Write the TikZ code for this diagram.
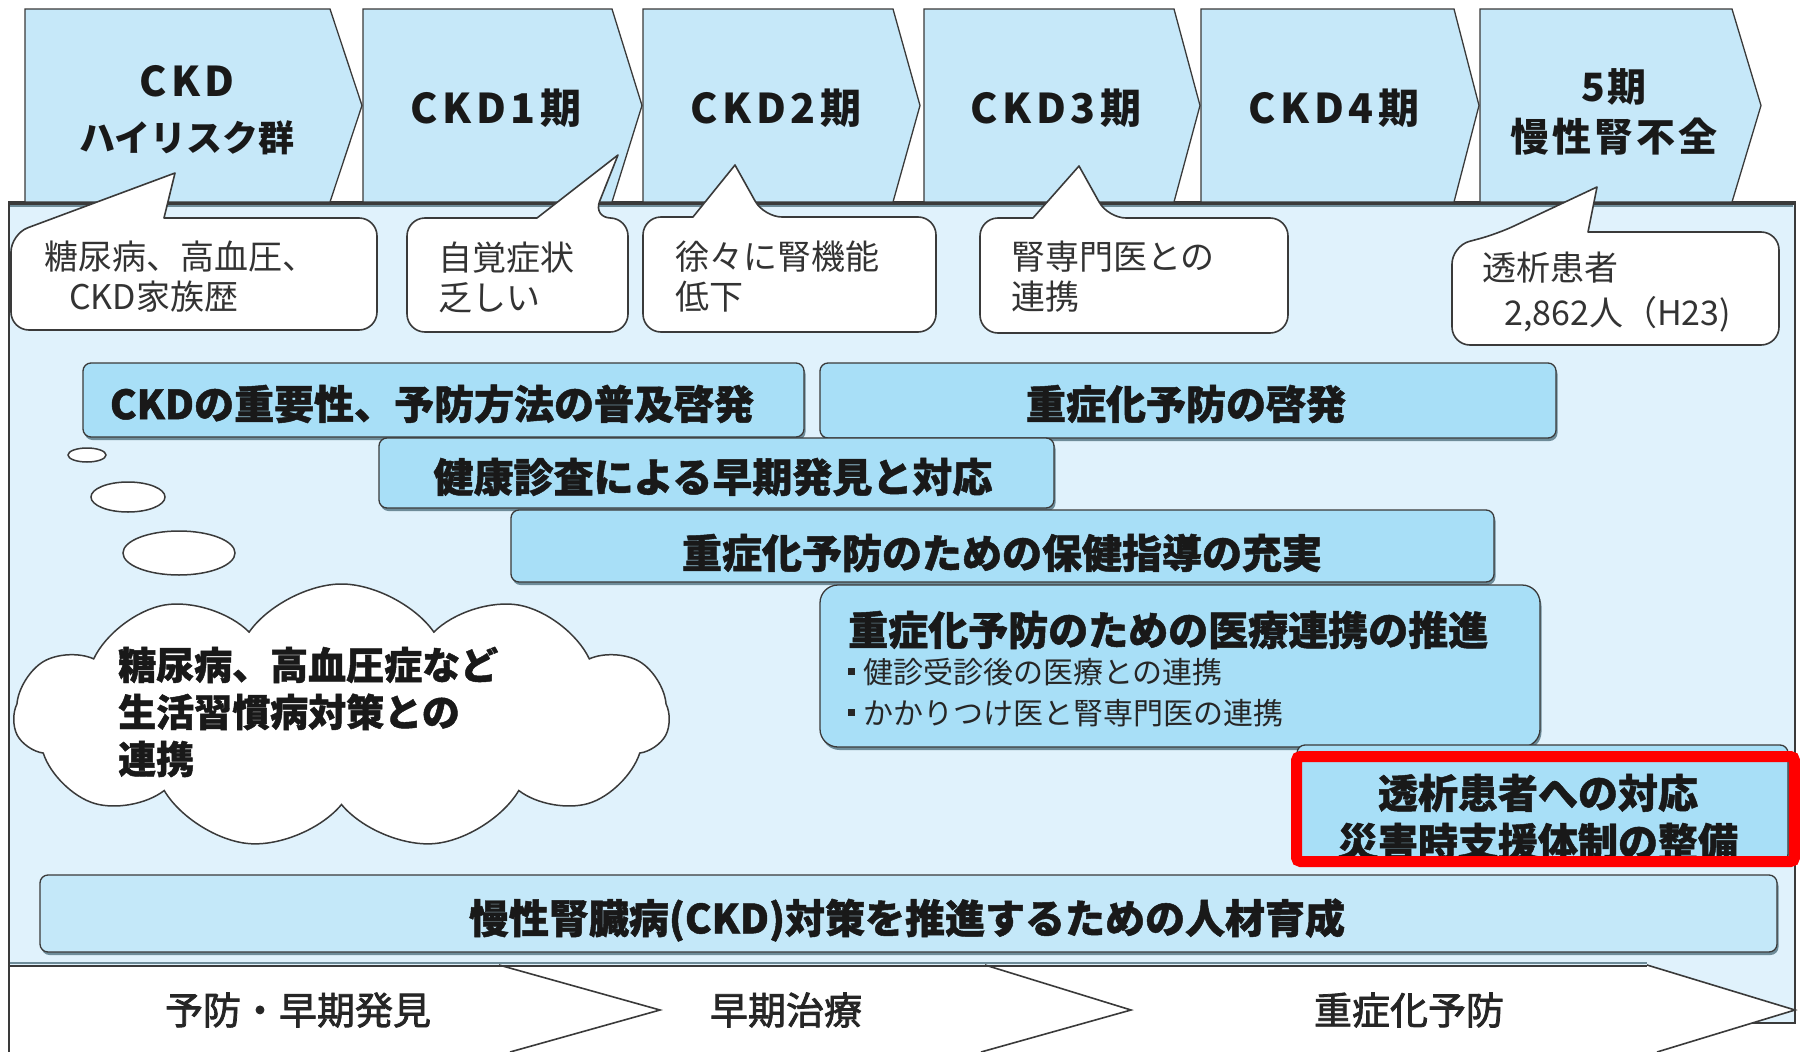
\documentclass[tikz,border=0pt]{standalone}
\usepackage{fontspec}
\newfontfamily\jp{Noto Sans CJK JP}
\newfontfamily\jpsp{Noto Sans CJK JP}[LetterSpace=8]
\newfontfamily\jpspw{Noto Sans CJK JP}[LetterSpace=11]
\newfontfamily\jpm{Noto Sans CJK JP}[FakeBold=2]
\newfontfamily\jph{Noto Sans CJK JP}[BoldFeatures={FakeBold=1.2}]
\usetikzlibrary{shapes.symbols,shadows}
\definecolor{chevfill}{HTML}{C6E8F9}
\definecolor{panelfill}{HTML}{E0F2FC}
\definecolor{boxfill}{HTML}{A8DFF7}
\definecolor{boxlight}{HTML}{C4E8F9}
\definecolor{bord}{HTML}{3A3A3A}
\definecolor{shad}{HTML}{6E8C99}
\definecolor{redframe}{HTML}{FF0000}
\newcommand\sqbul{\rule[8pt]{7pt}{7pt}\hspace{8pt}}
\tikzset{
  chev/.style={draw=bord, fill=chevfill, line width=1.3pt, line join=miter},
  bub/.style={draw=bord, fill=white, line width=1.6pt, rounded corners=18pt, line join=round},
  thought/.style={draw=bord, fill=white, line width=1.5pt},
  boxs/.style={draw=bord, fill=boxfill, line width=1.3pt, rounded corners=8pt, inner sep=0pt,
     drop shadow={shadow xshift=1.5pt, shadow yshift=-3pt, fill=shad, opacity=1}},
  boxtxt/.style={font=\jph\bfseries\fontsize{40}{49}\selectfont, inner sep=0pt, text=black!90},
  smalltxt/.style={font=\jp\fontsize{30}{36}\selectfont, inner sep=0pt, anchor=west, text=black!85},
  chevtxt/.style={font=\jpspw\bfseries\fontsize{41}{55}\selectfont, align=center, inner sep=0pt, text=black!90},
  bubtxt/.style={font=\jp\fontsize{34}{40}\selectfont, anchor=west, align=left, inner sep=0pt, text=black!80},
  cloudtxt/.style={font=\jph\bfseries\fontsize{38}{47}\selectfont, anchor=west, align=left, inner sep=0pt, text=black!90},
  bottxt/.style={font=\jpm\fontsize{38}{46}\selectfont, inner sep=0pt, text=black!85},
}
\begin{document}
\begin{tikzpicture}[x=1pt, y=-1pt]
\useasboundingbox (0,0) rectangle (1800,1052);
\fill[white] (0,0) rectangle (1800,1052);

% main panel
\draw[draw=bord, fill=panelfill, line width=1.5pt] (9,202) rectangle (1795,1023);

% top stage chevrons
\foreach \L/\R/\T in {25/330/362, 363/612/642, 643/893/920, 924/1174/1200, 1201/1454/1479, 1480/1732/1761}
  \draw[chev] (\L,9) -- (\R,9) -- (\T,105.5) -- (\R,202) -- (\L,202) -- cycle;
\draw[bord, line width=3pt] (9,203) -- (1795,203);
\draw[shad, line width=1.5pt] (9,206) -- (1793,206);

\node[chevtxt] (s0) at (187,110) {CKD\\{\jp\bfseries\fontsize{36}{55}\selectfont ハイリスク群}};
\node[chevtxt] (s1) at (496,108) {CKD1期};
\node[chevtxt] (s2) at (776,108) {CKD2期};
\node[chevtxt] (s3) at (1056,108) {CKD3期};
\node[chevtxt] (s4) at (1334,108) {CKD4期};
\node[chevtxt, font=\jpsp\bfseries\fontsize{39}{50}\selectfont] (s5) at (1614,112) {5期\\慢性腎不全};

% speech bubbles
\draw[bub] (164,218) -- (377,218) -- (377,330) -- (11,330) -- (11,234) [sharp corners] -- (175,173) -- cycle;
\draw[bub] (537,218) -- (407,218) -- (407,332) -- (628,332) -- (628,218) -- (593,218) [sharp corners] -- (618,155) -- cycle;
\draw[bub] (693,217) -- (643,217) -- (643,332) -- (936,332) -- (936,217) -- (764,217) [sharp corners] -- (735,165) -- cycle;
\draw[bub] (1033,218) -- (980,218) -- (980,333) -- (1288,333) -- (1288,218) -- (1108,218) [sharp corners] -- (1079,166) -- cycle;
\draw[bub] (1588,232) -- (1779,232) -- (1779,345) -- (1452,345) -- (1452,246) -- (1497,234) [sharp corners] -- (1597,187) -- cycle;

\node[bubtxt] (c0) at (44,277) {糖尿病、高血圧、\\\hspace*{25pt}CKD家族歴};
\node[bubtxt] (c1) at (438,277) {自覚症状\\乏しい};
\node[bubtxt] (c2) at (675,277) {徐々に腎機能\\低下};
\node[bubtxt] (c3) at (1011,277) {腎専門医との\\連携};
\node[bubtxt, font=\jp\fontsize{34}{45}\selectfont] (c5) at (1482,292) {透析患者\\\hspace*{22pt}2,862人（H23)};

% measure boxes
\node[boxs, minimum width=721pt, minimum height=74pt] (bA) at (443.5,400) {};
\node[boxtxt] (tA) at (432,404) {CKDの重要性、予防方法の普及啓発};
\node[boxs, minimum width=736pt, minimum height=75pt] (bB) at (1188,400.5) {};
\node[boxtxt] (tB) at (1186,404) {重症化予防の啓発};
\node[boxs, minimum width=675pt, minimum height=70pt] (bC) at (716.5,473) {};
\node[boxtxt] (tC) at (713,477) {健康診査による早期発見と対応};
\node[boxs, minimum width=983pt, minimum height=72pt] (bD) at (1002.5,546) {};
\node[boxtxt] (tD) at (1002,553) {重症化予防のための保健指導の充実};
\node[boxs, rounded corners=18pt, minimum width=720pt, minimum height=162pt] (bE) at (1180,666) {};
\node[boxtxt, anchor=west] (tE) at (848,630) {重症化予防のための医療連携の推進};
\node[smalltxt] (tE1) at (848,672) {\sqbul 健診受診後の医療との連携};
\node[smalltxt] (tE2) at (848,713) {\sqbul かかりつけ医と腎専門医の連携};
\node[boxs, minimum width=491pt, minimum height=117pt] (bF) at (1542.5,803.5) {};
\node[boxtxt, align=center] (tF) at (1538,817.5) {透析患者への対応\\災害時支援体制の整備};
\draw[redframe, line width=11pt, rounded corners=4pt] (1296.5,756.5) rectangle (1794.5,861.5);
\node[boxs, fill=boxlight, minimum width=1737pt, minimum height=77pt] (bG) at (908.5,913.5) {};
\node[boxtxt] (tG) at (907,920) {慢性腎臓病(CKD)対策を推進するための人材育成};

% thought cloud
\draw[thought] (87,455) ellipse [x radius=19, y radius=7];
\draw[thought] (128,497) ellipse [x radius=37, y radius=15];
\draw[thought] (179,553) ellipse [x radius=56, y radius=22];
\node[cloud, draw=bord, fill=white, line width=1.5pt, cloud puffs=11, cloud puff arc=110,
      cloud ignores aspect, minimum width=655pt, minimum height=265pt] (cl) at (341.5,716.5) {};
\node[cloudtxt] (clt) at (118,712) {糖尿病、高血圧症など\\生活習慣病対策との\\連携};

% bottom phase strip
\fill[white] (9,965) -- (1647,965) -- (1795,1010) -- (1657,1052) -- (9,1052) -- cycle;
\draw[shad, line width=2pt] (9,963) -- (1647,963);
\draw[bord, line width=2pt] (9,966) -- (1647,966);
\draw[bord, line width=1.6pt] (499,965) -- (660,1010) -- (510,1052);
\draw[bord, line width=1.6pt] (985,965) -- (1131,1010) -- (981,1052);
\draw[bord, line width=1.6pt] (1647,965) -- (1795,1010) -- (1657,1052);
\draw[bord, line width=1.5pt] (9,202) -- (9,1052);
\node[bottxt] (p1) at (298,1010) {予防・早期発見};
\node[bottxt] (p2) at (786,1010) {早期治療};
\node[bottxt] (p3) at (1409,1010) {重症化予防};
\end{tikzpicture}
\end{document}
